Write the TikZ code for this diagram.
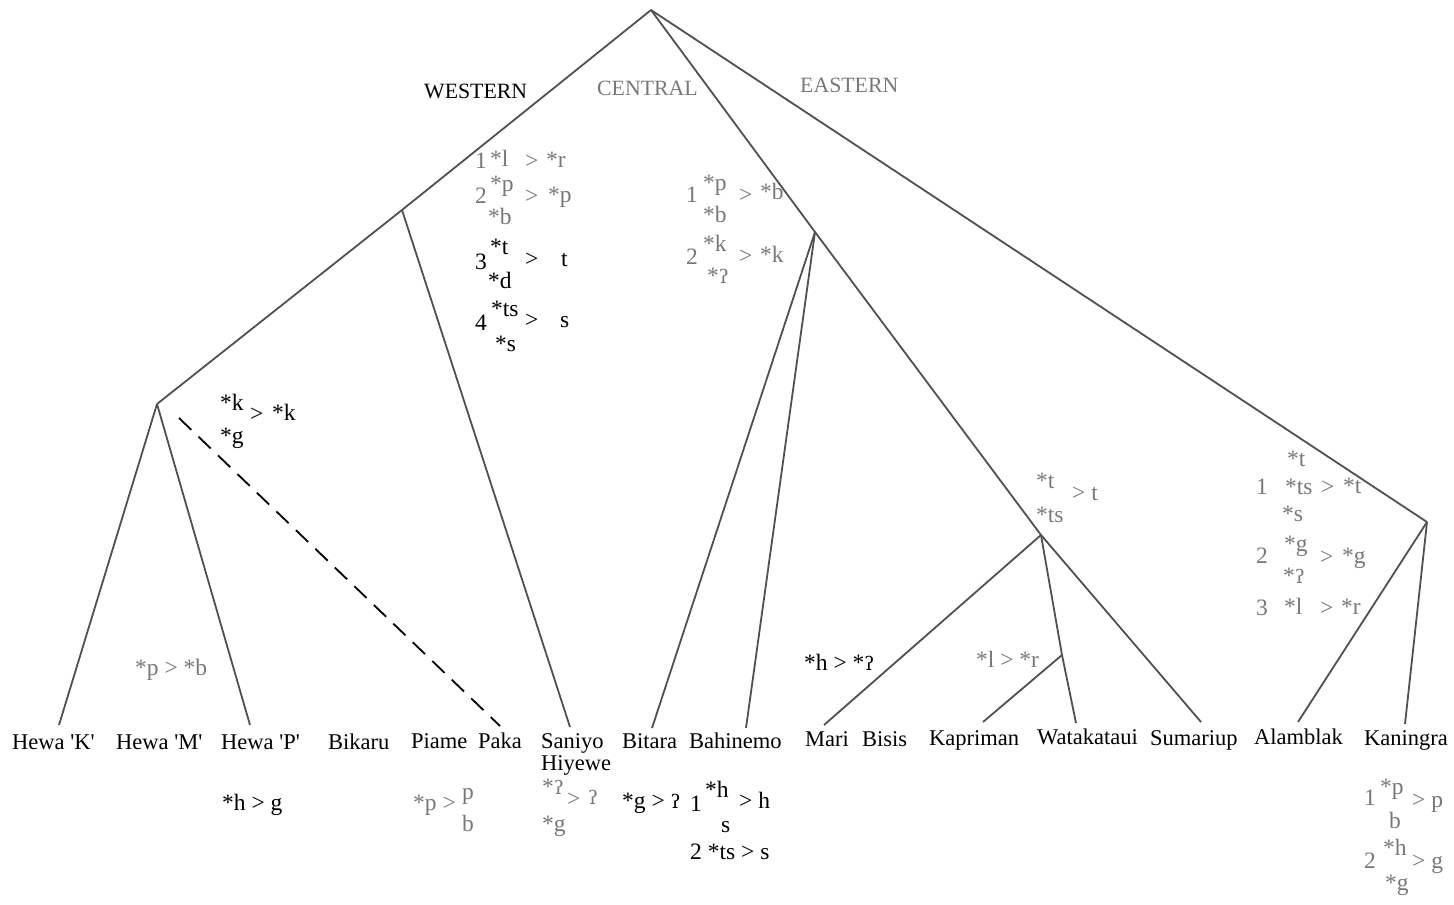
\documentclass[tikz,border=0pt]{standalone}
\usepackage{fontspec}
\setmainfont{Liberation Serif}[Ligatures=TeXOff]
\newfontfamily\ipafont{DejaVu Serif}[Scale=0.8]
\newcommand{\gs}{{\ipafont ʔ}}
\definecolor{linec}{RGB}{80,80,80}
\definecolor{grt}{RGB}{120,120,120}
\tikzset{
  branch/.style={draw=linec, line width=1.8pt},
  lbl/.style={anchor=base west, inner sep=0pt, font=\fontsize{22.5}{26}\selectfont},
  sc/.style={anchor=mid west, inner sep=0pt, font=\fontsize{23.5}{26}\selectfont},
  gsc/.style={sc, text=grt},
  grp/.style={anchor=base west, inner sep=0pt, font=\fontsize{21.8}{24}\selectfont},
}
\begin{document}
\begin{tikzpicture}[x=1pt,y=-1pt]
\useasboundingbox (0,0) rectangle (1454,905);
% tree nodes
\coordinate (root) at (651,10);
\coordinate (W) at (402,210);
\coordinate (WL) at (157,404);
\coordinate (C) at (815,232);
\coordinate (CE) at (1041,535);
\coordinate (W2) at (1062,655);
\coordinate (E) at (1427,522);
\coordinate (hK) at (59,725);
\coordinate (hP) at (250,725);
\coordinate (paka) at (500,726);
\coordinate (sani) at (570,727);
\coordinate (bita) at (652,728);
\coordinate (bahi) at (746,728);
\coordinate (mari) at (824,725);
\coordinate (kapr) at (983,722);
\coordinate (wata) at (1076,723);
\coordinate (suma) at (1201,722);
\coordinate (alam) at (1298,722);
\coordinate (kani) at (1405,724);
% branches
\draw[branch] (root) -- (W) -- (WL);
\draw[branch] (root) -- (C) -- (CE);
\draw[branch] (root) -- (E);
\draw[branch] (W) -- (sani);
\draw[branch] (WL) -- (hK);
\draw[branch] (WL) -- (hP);
\draw[black, line width=1.8pt, dash pattern=on 17pt off 10pt] (WL) ++(22,14) -- (paka);
\draw[branch] (C) -- (bita);
\draw[branch] (C) -- (bahi);
\draw[branch] (CE) -- (mari);
\draw[branch] (CE) -- (W2) -- (wata);
\draw[branch] (W2) -- (kapr);
\draw[branch] (CE) -- (suma);
\draw[branch] (E) -- (alam);
\draw[branch] (E) -- (kani);
% group labels
\node[grp] (lw) at (424,98) {WESTERN};
\node[grp, text=grt] (lc) at (597,95) {CENTRAL};
\node[grp, text=grt] (le) at (800,92) {EASTERN};
% western changes
\node[gsc] (w1n) at (475,166) {1};
\node[gsc] (w1a) at (490,164) {*l};
\node[gsc] (w1g) at (525,166) {>};
\node[gsc] (w1b) at (546,165) {*r};
\node[gsc] (w2n) at (475,201) {2};
\node[gsc] (w2a) at (490,189) {*p};
\node[gsc] (w2g) at (525,201) {>};
\node[gsc] (w2b) at (548,200) {*p};
\node[gsc] (w2c) at (488,222) {*b};
\node[sc] (w3n) at (475,267) {3};
\node[sc] (w3a) at (490,252) {*t};
\node[sc] (w3g) at (525,264) {>};
\node[sc] (w3b) at (561,264) {t};
\node[sc] (w3c) at (488,286) {*d};
\node[sc] (w4n) at (475,328) {4};
\node[sc] (w4a) at (491,314) {*ts};
\node[sc] (w4g) at (525,325) {>};
\node[sc] (w4b) at (560,325) {s};
\node[sc] (w4c) at (495,349) {*s};
% central changes
\node[gsc] (c1n) at (686,200) {1};
\node[gsc] (c1a) at (703,188) {*p};
\node[gsc] (c1g) at (739,200) {>};
\node[gsc] (c1b) at (760,197) {*b};
\node[gsc] (c1c) at (703,220) {*b};
\node[gsc] (c2n) at (686,262) {2};
\node[gsc] (c2a) at (703,249) {*k};
\node[gsc] (c2g) at (739,261) {>};
\node[gsc] (c2b) at (760,260) {*k};
\node[gsc] (c2c) at (707,281) {*\gs};
% k > k g
\node[sc] (ka) at (220,408) {*k};
\node[sc] (kg) at (250,419) {>};
\node[sc] (kb) at (272,418) {*k};
\node[sc] (kc) at (220,441) {*g};
% p > b (Hewa M)
\node[gsc] (pb) at (135,673) {*p > *b};
% t ts > t
\node[gsc] (ta) at (1036,486) {*t};
\node[gsc] (tg) at (1072,498) {> t};
\node[gsc] (tb) at (1036,520) {*ts};
% eastern changes
\node[gsc] (e1a) at (1287,464) {*t};
\node[gsc] (e1n) at (1256,492) {1};
\node[gsc] (e1b) at (1285,492) {*ts};
\node[gsc] (e1g) at (1321,492) {>};
\node[gsc] (e1c) at (1343,491) {*t};
\node[gsc] (e1d) at (1282,519) {*s};
\node[gsc] (e2n) at (1256,561) {2};
\node[gsc] (e2a) at (1284,549) {*g};
\node[gsc] (e2g) at (1320,562) {>};
\node[gsc] (e2b) at (1342,561) {*g};
\node[gsc] (e2c) at (1283,581) {*\gs};
\node[gsc] (e3n) at (1256,613) {3};
\node[gsc] (e3a) at (1284,612) {*l};
\node[gsc] (e3g) at (1320,613) {>};
\node[gsc] (e3b) at (1341,612) {*r};
% near bottom
\node[sc] (hq) at (804,668) {*h > *\gs};
\node[gsc] (lr) at (976,665) {*l > *r};
% leaf labels
\node[lbl] (LhK) at (12,749) {Hewa 'K'};
\node[lbl] (LhM) at (116,749) {Hewa 'M'};
\node[lbl] (LhP) at (221,749) {Hewa 'P'};
\node[lbl] (Lbik) at (328,749) {Bikaru};
\node[lbl] (Lpia) at (411,748) {Piame};
\node[lbl] (Lpak) at (478,748) {Paka};
\node[lbl] (Lsan) at (541,748) {Saniyo};
\node[lbl] (Lhiy) at (541,770) {Hiyewe};
\node[lbl] (Lbit) at (622,748) {Bitara};
\node[lbl] (Lbah) at (689,748) {Bahinemo};
\node[lbl] (Lmar) at (805,746) {Mari};
\node[lbl] (Lbis) at (862,746) {Bisis};
\node[lbl] (Lkap) at (929,745) {Kapriman};
\node[lbl] (Lwat) at (1037,744) {Watakataui};
\node[lbl] (Lsum) at (1150,745) {Sumariup};
\node[lbl] (Lala) at (1254,744) {Alamblak};
\node[lbl] (Lkan) at (1364,745) {Kaningra};
% bottom changes
\node[sc] (hg) at (222,808) {*h > g};
\node[gsc] (pp1) at (413,808) {*p >};
\node[gsc] (pp2) at (462,797) {p};
\node[gsc] (pp3) at (462,829) {b};
\node[gsc] (qq1) at (542,792) {*\gs};
\node[gsc] (qq2) at (567,804) {>};
\node[gsc] (qq3) at (588,802) {\gs};
\node[gsc] (qq4) at (542,829) {*g};
\node[sc] (gq) at (622,806) {*g > \gs};
\node[sc] (b1n) at (690,809) {1};
\node[sc] (b1a) at (705,795) {*h};
\node[sc] (b1g) at (739,806) {> h};
\node[sc] (b1b) at (721,830) {s};
\node[sc] (b2) at (690,857) {2 *ts > s};
\node[gsc] (k1n) at (1364,803) {1};
\node[gsc] (k1a) at (1380,792) {*p};
\node[gsc] (k1g) at (1412,805) {> p};
\node[gsc] (k1b) at (1389,826) {b};
\node[gsc] (k2n) at (1364,866) {2};
\node[gsc] (k2a) at (1383,853) {*h};
\node[gsc] (k2g) at (1412,866) {> g};
\node[gsc] (k2b) at (1385,888) {*g};
\end{tikzpicture}
\end{document}
